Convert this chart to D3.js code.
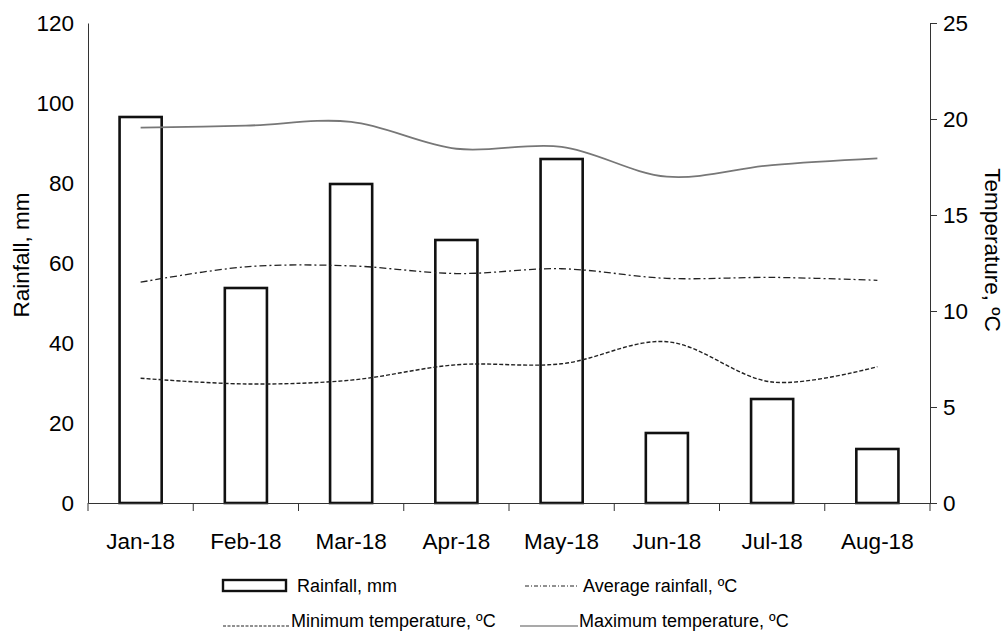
<!DOCTYPE html>
<html><head><meta charset="utf-8">
<script src="https://cdn.jsdelivr.net/npm/d3@7"></script>
<style>body{margin:0;background:#fff;} svg{display:block;font-family:"Liberation Sans",Arial,sans-serif;}</style>
</head><body><svg id="c" width="1008" height="632"></svg>
<script>
const months = ["Jan-18","Feb-18","Mar-18","Apr-18","May-18","Jun-18","Jul-18","Aug-18"];
const rainfall = [96.5, 53.75, 79.75, 65.75, 86, 17.5, 26, 13.5];
const avgTemp = [11.5, 12.3, 12.35, 11.95, 12.2, 11.7, 11.75, 11.6];
const minTemp = [6.5, 6.2, 6.4, 7.2, 7.25, 8.4, 6.3, 7.1];
const maxTemp = [19.55, 19.65, 19.85, 18.45, 18.55, 17.0, 17.6, 17.95];
const leftTicks = [0,20,40,60,80,100,120];
const rightTicks = [0,5,10,15,20,25];

const svg = d3.select("#c");
const L = 88, R = 930, T = 23, B = 503;
const x = d3.scaleBand().domain(months).range([L, R]).paddingInner(0.6).paddingOuter(0.3);
const yL = d3.scaleLinear().domain([0,120]).range([B, T]);
const yR = d3.scaleLinear().domain([0,25]).range([B, T]);
const fs = 22.5;
const ff = "Liberation Sans, Arial, sans-serif";

// left axis
const gl = svg.append("g").attr("transform",`translate(${L},0)`)
  .call(d3.axisLeft(yL).tickValues(leftTicks).tickSize(0).tickPadding(14));
gl.select(".domain").attr("stroke","#333");
gl.selectAll("text").attr("font-size",fs).attr("fill","#000").attr("font-family",ff);

// right axis
const gr = svg.append("g").attr("transform",`translate(${R},0)`)
  .call(d3.axisRight(yR).tickValues(rightTicks).tickSize(7).tickPadding(6));
gr.select(".domain").attr("stroke","#333");
gr.selectAll("line").attr("stroke","#333");
gr.selectAll("text").attr("font-size",fs).attr("fill","#000").attr("font-family",ff);

// bars
svg.append("g").selectAll("rect").data(months).join("rect")
  .attr("x", d => x(d)).attr("width", x.bandwidth())
  .attr("y", (d,i) => yL(rainfall[i])).attr("height", (d,i) => B - yL(rainfall[i]))
  .attr("fill","#fff").attr("stroke","#111").attr("stroke-width",2.6);

// x axis
const gx = svg.append("g").attr("transform",`translate(0,${B})`)
  .call(d3.axisBottom(x).tickSize(0).tickPadding(30));
gx.select(".domain").attr("stroke","#333");
gx.selectAll("text").attr("font-size",fs).attr("fill","#000").attr("font-family",ff);
const bounds = months.map(m => x(m) - x.step()*x.paddingInner()/2);
bounds.push(R);
gx.append("g").selectAll("line").data(bounds).join("line")
  .attr("x1", d => d).attr("x2", d => d).attr("y1", 0).attr("y2", 8)
  .attr("stroke","#333");

// lines
const cx = m => x(m) + x.bandwidth()/2;
const lineGen = arr => d3.line().x((d,i)=>cx(months[i])).y(d=>yR(d)).curve(d3.curveCatmullRom.alpha(0.5))(arr);
svg.append("path").attr("d", lineGen(maxTemp)).attr("fill","none").attr("stroke","#777").attr("stroke-width",1.8);
svg.append("path").attr("d", lineGen(avgTemp)).attr("fill","none").attr("stroke","#222").attr("stroke-width",1.3).attr("stroke-dasharray","7,3,2,3");
svg.append("path").attr("d", lineGen(minTemp)).attr("fill","none").attr("stroke","#222").attr("stroke-width",1.4).attr("stroke-dasharray","4,2");

// axis titles
svg.append("text").attr("transform","translate(29,255) rotate(-90)").attr("text-anchor","middle")
  .attr("font-size",fs).text("Rainfall, mm");
svg.append("text").attr("transform","translate(985,250) rotate(90)").attr("text-anchor","middle")
  .attr("font-size",fs).text("Temperature, ºC");

// legend
const lg = svg.append("g").attr("font-size",18);
lg.append("rect").attr("x",223).attr("y",580).attr("width",63).attr("height",11).attr("fill","#fff").attr("stroke","#111").attr("stroke-width",2.4);
lg.append("text").attr("x",297).attr("y",592).text("Rainfall, mm");
lg.append("line").attr("x1",525).attr("x2",578).attr("y1",586).attr("y2",586).attr("stroke","#222").attr("stroke-width",1).attr("stroke-dasharray","4,2,1,2");
lg.append("text").attr("x",583).attr("y",592).text("Average rainfall, ºC");
lg.append("line").attr("x1",223).attr("x2",289).attr("y1",626).attr("y2",626).attr("stroke","#222").attr("stroke-width",1).attr("stroke-dasharray","3,1.5");
lg.append("text").attr("x",291).attr("y",627).text("Minimum temperature, ºC");
lg.append("line").attr("x1",520).attr("x2",578).attr("y1",626).attr("y2",626).attr("stroke","#555").attr("stroke-width",1.2);
lg.append("text").attr("x",579).attr("y",627).text("Maximum temperature, ºC");
</script></body></html>
